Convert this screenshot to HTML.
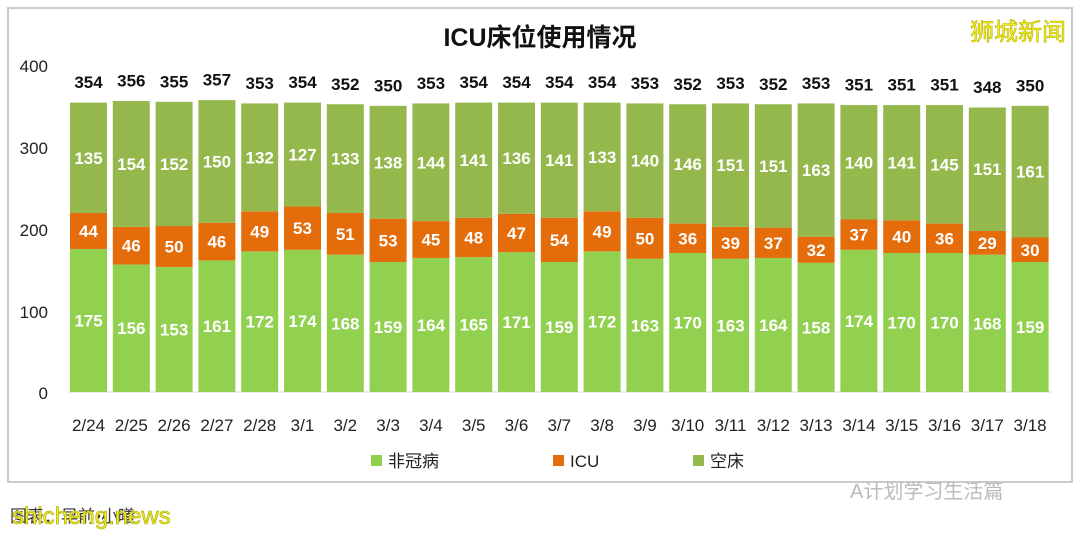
<!DOCTYPE html><html><head><meta charset="utf-8"><style>body{margin:0;background:#fff}svg{display:block}</style></head><body>
<svg width="1080" height="537" viewBox="0 0 1080 537" xmlns="http://www.w3.org/2000/svg" font-family="'Liberation Sans','Noto Sans CJK SC',sans-serif">
<rect x="0" y="0" width="1080" height="537" fill="#fff"/>
<rect x="8" y="8" width="1064" height="474" fill="#fff" stroke="#c8cccc" stroke-width="2"/>
<text x="540" y="46" text-anchor="middle" font-size="25" font-weight="bold" fill="#111">ICU床位使用情况</text>
<text x="1066" y="40" text-anchor="end" font-size="24" fill="#f2f21a" stroke="#b8b000" stroke-width="0.6">狮城新闻</text>
<g font-size="17" fill="#222" text-anchor="end">
<text x="48" y="72">400</text><text x="48" y="154">300</text><text x="48" y="236">200</text><text x="48" y="318">100</text><text x="48" y="399">0</text>
</g>
<line x1="68" y1="392" x2="1052" y2="392" stroke="#d9d9d9"/>
<g transform="translate(0,392) scale(1,-0.8175)" font-size="17" font-weight="bold" text-anchor="middle">
<defs><style>.a{fill:#92d050}.b{fill:#e46c0a}.c{fill:#94b84c}.w{fill:#fff}.k{fill:#111}</style></defs>
<g transform="translate(70,0)"><rect class="a" width="37" height="175"/><rect class="b" y="175" width="37" height="44"/><rect class="c" y="219" width="37" height="135"/><text class="w" transform="translate(18.5,87.5) scale(1,-1.2232)" dy="6">175</text><text class="w" transform="translate(18.5,197) scale(1,-1.2232)" dy="6">44</text><text class="w" transform="translate(18.5,286.5) scale(1,-1.2232)" dy="6">135</text><text class="k" transform="translate(18.5,379) scale(1,-1.2232)" dy="6">354</text></g>
<g transform="translate(112.8,0)"><rect class="a" width="37" height="156"/><rect class="b" y="156" width="37" height="46"/><rect class="c" y="202" width="37" height="154"/><text class="w" transform="translate(18.5,78) scale(1,-1.2232)" dy="6">156</text><text class="w" transform="translate(18.5,179) scale(1,-1.2232)" dy="6">46</text><text class="w" transform="translate(18.5,279) scale(1,-1.2232)" dy="6">154</text><text class="k" transform="translate(18.5,381) scale(1,-1.2232)" dy="6">356</text></g>
<g transform="translate(155.6,0)"><rect class="a" width="37" height="153"/><rect class="b" y="153" width="37" height="50"/><rect class="c" y="203" width="37" height="152"/><text class="w" transform="translate(18.5,76.5) scale(1,-1.2232)" dy="6">153</text><text class="w" transform="translate(18.5,178) scale(1,-1.2232)" dy="6">50</text><text class="w" transform="translate(18.5,279) scale(1,-1.2232)" dy="6">152</text><text class="k" transform="translate(18.5,380) scale(1,-1.2232)" dy="6">355</text></g>
<g transform="translate(198.4,0)"><rect class="a" width="37" height="161"/><rect class="b" y="161" width="37" height="46"/><rect class="c" y="207" width="37" height="150"/><text class="w" transform="translate(18.5,80.5) scale(1,-1.2232)" dy="6">161</text><text class="w" transform="translate(18.5,184) scale(1,-1.2232)" dy="6">46</text><text class="w" transform="translate(18.5,282) scale(1,-1.2232)" dy="6">150</text><text class="k" transform="translate(18.5,382) scale(1,-1.2232)" dy="6">357</text></g>
<g transform="translate(241.2,0)"><rect class="a" width="37" height="172"/><rect class="b" y="172" width="37" height="49"/><rect class="c" y="221" width="37" height="132"/><text class="w" transform="translate(18.5,86) scale(1,-1.2232)" dy="6">172</text><text class="w" transform="translate(18.5,196.5) scale(1,-1.2232)" dy="6">49</text><text class="w" transform="translate(18.5,287) scale(1,-1.2232)" dy="6">132</text><text class="k" transform="translate(18.5,378) scale(1,-1.2232)" dy="6">353</text></g>
<g transform="translate(284,0)"><rect class="a" width="37" height="174"/><rect class="b" y="174" width="37" height="53"/><rect class="c" y="227" width="37" height="127"/><text class="w" transform="translate(18.5,87) scale(1,-1.2232)" dy="6">174</text><text class="w" transform="translate(18.5,200.5) scale(1,-1.2232)" dy="6">53</text><text class="w" transform="translate(18.5,290.5) scale(1,-1.2232)" dy="6">127</text><text class="k" transform="translate(18.5,379) scale(1,-1.2232)" dy="6">354</text></g>
<g transform="translate(326.8,0)"><rect class="a" width="37" height="168"/><rect class="b" y="168" width="37" height="51"/><rect class="c" y="219" width="37" height="133"/><text class="w" transform="translate(18.5,84) scale(1,-1.2232)" dy="6">168</text><text class="w" transform="translate(18.5,193.5) scale(1,-1.2232)" dy="6">51</text><text class="w" transform="translate(18.5,285.5) scale(1,-1.2232)" dy="6">133</text><text class="k" transform="translate(18.5,377) scale(1,-1.2232)" dy="6">352</text></g>
<g transform="translate(369.6,0)"><rect class="a" width="37" height="159"/><rect class="b" y="159" width="37" height="53"/><rect class="c" y="212" width="37" height="138"/><text class="w" transform="translate(18.5,79.5) scale(1,-1.2232)" dy="6">159</text><text class="w" transform="translate(18.5,185.5) scale(1,-1.2232)" dy="6">53</text><text class="w" transform="translate(18.5,281) scale(1,-1.2232)" dy="6">138</text><text class="k" transform="translate(18.5,375) scale(1,-1.2232)" dy="6">350</text></g>
<g transform="translate(412.4,0)"><rect class="a" width="37" height="164"/><rect class="b" y="164" width="37" height="45"/><rect class="c" y="209" width="37" height="144"/><text class="w" transform="translate(18.5,82) scale(1,-1.2232)" dy="6">164</text><text class="w" transform="translate(18.5,186.5) scale(1,-1.2232)" dy="6">45</text><text class="w" transform="translate(18.5,281) scale(1,-1.2232)" dy="6">144</text><text class="k" transform="translate(18.5,378) scale(1,-1.2232)" dy="6">353</text></g>
<g transform="translate(455.2,0)"><rect class="a" width="37" height="165"/><rect class="b" y="165" width="37" height="48"/><rect class="c" y="213" width="37" height="141"/><text class="w" transform="translate(18.5,82.5) scale(1,-1.2232)" dy="6">165</text><text class="w" transform="translate(18.5,189) scale(1,-1.2232)" dy="6">48</text><text class="w" transform="translate(18.5,283.5) scale(1,-1.2232)" dy="6">141</text><text class="k" transform="translate(18.5,379) scale(1,-1.2232)" dy="6">354</text></g>
<g transform="translate(498,0)"><rect class="a" width="37" height="171"/><rect class="b" y="171" width="37" height="47"/><rect class="c" y="218" width="37" height="136"/><text class="w" transform="translate(18.5,85.5) scale(1,-1.2232)" dy="6">171</text><text class="w" transform="translate(18.5,194.5) scale(1,-1.2232)" dy="6">47</text><text class="w" transform="translate(18.5,286) scale(1,-1.2232)" dy="6">136</text><text class="k" transform="translate(18.5,379) scale(1,-1.2232)" dy="6">354</text></g>
<g transform="translate(540.8,0)"><rect class="a" width="37" height="159"/><rect class="b" y="159" width="37" height="54"/><rect class="c" y="213" width="37" height="141"/><text class="w" transform="translate(18.5,79.5) scale(1,-1.2232)" dy="6">159</text><text class="w" transform="translate(18.5,186) scale(1,-1.2232)" dy="6">54</text><text class="w" transform="translate(18.5,283.5) scale(1,-1.2232)" dy="6">141</text><text class="k" transform="translate(18.5,379) scale(1,-1.2232)" dy="6">354</text></g>
<g transform="translate(583.6,0)"><rect class="a" width="37" height="172"/><rect class="b" y="172" width="37" height="49"/><rect class="c" y="221" width="37" height="133"/><text class="w" transform="translate(18.5,86) scale(1,-1.2232)" dy="6">172</text><text class="w" transform="translate(18.5,196.5) scale(1,-1.2232)" dy="6">49</text><text class="w" transform="translate(18.5,287.5) scale(1,-1.2232)" dy="6">133</text><text class="k" transform="translate(18.5,379) scale(1,-1.2232)" dy="6">354</text></g>
<g transform="translate(626.4,0)"><rect class="a" width="37" height="163"/><rect class="b" y="163" width="37" height="50"/><rect class="c" y="213" width="37" height="140"/><text class="w" transform="translate(18.5,81.5) scale(1,-1.2232)" dy="6">163</text><text class="w" transform="translate(18.5,188) scale(1,-1.2232)" dy="6">50</text><text class="w" transform="translate(18.5,283) scale(1,-1.2232)" dy="6">140</text><text class="k" transform="translate(18.5,378) scale(1,-1.2232)" dy="6">353</text></g>
<g transform="translate(669.2,0)"><rect class="a" width="37" height="170"/><rect class="b" y="170" width="37" height="36"/><rect class="c" y="206" width="37" height="146"/><text class="w" transform="translate(18.5,85) scale(1,-1.2232)" dy="6">170</text><text class="w" transform="translate(18.5,188) scale(1,-1.2232)" dy="6">36</text><text class="w" transform="translate(18.5,279) scale(1,-1.2232)" dy="6">146</text><text class="k" transform="translate(18.5,377) scale(1,-1.2232)" dy="6">352</text></g>
<g transform="translate(712,0)"><rect class="a" width="37" height="163"/><rect class="b" y="163" width="37" height="39"/><rect class="c" y="202" width="37" height="151"/><text class="w" transform="translate(18.5,81.5) scale(1,-1.2232)" dy="6">163</text><text class="w" transform="translate(18.5,182.5) scale(1,-1.2232)" dy="6">39</text><text class="w" transform="translate(18.5,277.5) scale(1,-1.2232)" dy="6">151</text><text class="k" transform="translate(18.5,378) scale(1,-1.2232)" dy="6">353</text></g>
<g transform="translate(754.8,0)"><rect class="a" width="37" height="164"/><rect class="b" y="164" width="37" height="37"/><rect class="c" y="201" width="37" height="151"/><text class="w" transform="translate(18.5,82) scale(1,-1.2232)" dy="6">164</text><text class="w" transform="translate(18.5,182.5) scale(1,-1.2232)" dy="6">37</text><text class="w" transform="translate(18.5,276.5) scale(1,-1.2232)" dy="6">151</text><text class="k" transform="translate(18.5,377) scale(1,-1.2232)" dy="6">352</text></g>
<g transform="translate(797.6,0)"><rect class="a" width="37" height="158"/><rect class="b" y="158" width="37" height="32"/><rect class="c" y="190" width="37" height="163"/><text class="w" transform="translate(18.5,79) scale(1,-1.2232)" dy="6">158</text><text class="w" transform="translate(18.5,174) scale(1,-1.2232)" dy="6">32</text><text class="w" transform="translate(18.5,271.5) scale(1,-1.2232)" dy="6">163</text><text class="k" transform="translate(18.5,378) scale(1,-1.2232)" dy="6">353</text></g>
<g transform="translate(840.4,0)"><rect class="a" width="37" height="174"/><rect class="b" y="174" width="37" height="37"/><rect class="c" y="211" width="37" height="140"/><text class="w" transform="translate(18.5,87) scale(1,-1.2232)" dy="6">174</text><text class="w" transform="translate(18.5,192.5) scale(1,-1.2232)" dy="6">37</text><text class="w" transform="translate(18.5,281) scale(1,-1.2232)" dy="6">140</text><text class="k" transform="translate(18.5,376) scale(1,-1.2232)" dy="6">351</text></g>
<g transform="translate(883.2,0)"><rect class="a" width="37" height="170"/><rect class="b" y="170" width="37" height="40"/><rect class="c" y="210" width="37" height="141"/><text class="w" transform="translate(18.5,85) scale(1,-1.2232)" dy="6">170</text><text class="w" transform="translate(18.5,190) scale(1,-1.2232)" dy="6">40</text><text class="w" transform="translate(18.5,280.5) scale(1,-1.2232)" dy="6">141</text><text class="k" transform="translate(18.5,376) scale(1,-1.2232)" dy="6">351</text></g>
<g transform="translate(926,0)"><rect class="a" width="37" height="170"/><rect class="b" y="170" width="37" height="36"/><rect class="c" y="206" width="37" height="145"/><text class="w" transform="translate(18.5,85) scale(1,-1.2232)" dy="6">170</text><text class="w" transform="translate(18.5,188) scale(1,-1.2232)" dy="6">36</text><text class="w" transform="translate(18.5,278.5) scale(1,-1.2232)" dy="6">145</text><text class="k" transform="translate(18.5,376) scale(1,-1.2232)" dy="6">351</text></g>
<g transform="translate(968.8,0)"><rect class="a" width="37" height="168"/><rect class="b" y="168" width="37" height="29"/><rect class="c" y="197" width="37" height="151"/><text class="w" transform="translate(18.5,84) scale(1,-1.2232)" dy="6">168</text><text class="w" transform="translate(18.5,182.5) scale(1,-1.2232)" dy="6">29</text><text class="w" transform="translate(18.5,272.5) scale(1,-1.2232)" dy="6">151</text><text class="k" transform="translate(18.5,373) scale(1,-1.2232)" dy="6">348</text></g>
<g transform="translate(1011.6,0)"><rect class="a" width="37" height="159"/><rect class="b" y="159" width="37" height="30"/><rect class="c" y="189" width="37" height="161"/><text class="w" transform="translate(18.5,79.5) scale(1,-1.2232)" dy="6">159</text><text class="w" transform="translate(18.5,174) scale(1,-1.2232)" dy="6">30</text><text class="w" transform="translate(18.5,269.5) scale(1,-1.2232)" dy="6">161</text><text class="k" transform="translate(18.5,375) scale(1,-1.2232)" dy="6">350</text></g>
</g>
<g font-size="17" fill="#222" text-anchor="middle">
<text x="88.5" y="431">2/24</text><text x="131.3" y="431">2/25</text><text x="174.1" y="431">2/26</text><text x="216.9" y="431">2/27</text><text x="259.7" y="431">2/28</text><text x="302.5" y="431">3/1</text><text x="345.3" y="431">3/2</text><text x="388.1" y="431">3/3</text><text x="430.9" y="431">3/4</text><text x="473.7" y="431">3/5</text><text x="516.5" y="431">3/6</text><text x="559.3" y="431">3/7</text><text x="602.1" y="431">3/8</text><text x="644.9" y="431">3/9</text><text x="687.7" y="431">3/10</text><text x="730.5" y="431">3/11</text><text x="773.3" y="431">3/12</text><text x="816.1" y="431">3/13</text><text x="858.9" y="431">3/14</text><text x="901.7" y="431">3/15</text><text x="944.5" y="431">3/16</text><text x="987.3" y="431">3/17</text><text x="1030.1" y="431">3/18</text>
</g>
<g font-size="17" fill="#222">
<rect x="371" y="455" width="11" height="11" fill="#92d050"/><text x="388" y="467">非冠病</text>
<rect x="553" y="455" width="11" height="11" fill="#e46c0a"/><text x="570" y="467">ICU</text>
<rect x="693" y="455" width="11" height="11" fill="#94b84c"/><text x="710" y="467">空床</text>
</g>
<text x="850" y="498" font-size="20" fill="#bbb">A计划学习生活篇</text>
<text x="10" y="522" font-size="17" fill="#333">图表：早前•小曦</text>
<text x="12" y="524" font-size="24" fill="#f0f020" stroke="#a8a000" stroke-width="0.6">shicheng.news</text>
</svg>
</body></html>
